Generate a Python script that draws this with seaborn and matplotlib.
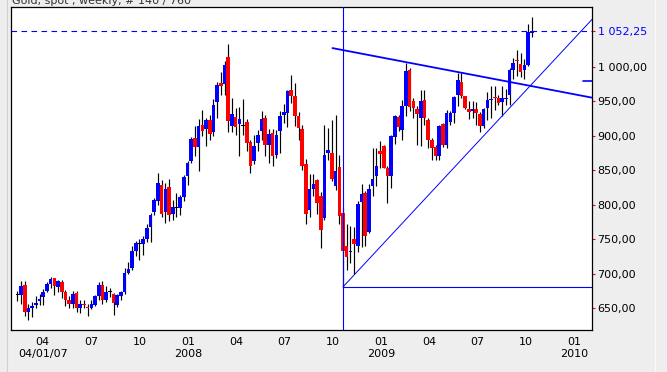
import pandas as pd
import numpy as np
import matplotlib
matplotlib.use("Agg")
import matplotlib.pyplot as plt
import matplotlib.dates as mdates
from matplotlib.lines import Line2D
import seaborn as sns

# weekly candles, gold spot, one row per week starting 2007-02-12
first_week = "2007-02-12"
opens = [669, 669.5, 684, 644, 651, 654.5, 660, 667, 674.5, 685.5,
         694, 681, 688.5, 673, 662.5, 656.5, 672.5, 651, 656.5, 652,
         651, 655, 667.5, 684, 662.5, 673, 670.5, 655, 668.5, 674,
         701, 708.5, 732.5, 743, 743, 750.5, 768.5, 789.5, 805, 829,
         789.5, 825.5, 787, 795.5, 795.5, 811, 842.5, 863, 897, 884,
         915.5, 910, 923.5, 905, 948.5, 976.5, 975.5, 1014.5, 914, 927.5,
         917.5, 915, 920.5, 890.5, 863, 889.5, 906.5, 926, 887, 904,
         872.5, 906.5, 930.5, 933, 967, 958.5, 929.5, 910.5, 859.5, 792,
         823.5, 835.5, 813.5, 781, 875, 875, 827, 855, 788, 740.5,
         731, 751, 741, 803.5, 817, 760, 827.5, 841.5, 878.5, 885,
         853.5, 842, 898, 927, 908, 943, 995, 950, 939, 926,
         952.5, 923.5, 893.5, 884, 870.5, 917.5, 887, 919.5, 933, 959,
         977.5, 957.5, 939, 935.5, 939, 931.5, 915, 940, 951.5, 956.5,
         955.5, 948.5, 953.5, 959.5, 995, 1009, 1004.5, 995, 1003, 1049]
highs = [674.5, 690, 690, 656.5, 659, 668, 670.5, 678, 687.5, 695,
         694, 691.5, 690.5, 676, 668, 675.5, 675.5, 661.5, 662.5, 656.5,
         661.5, 669.5, 688, 690, 682.5, 679, 672, 670.5, 675.5, 708.5,
         717, 740.5, 747, 750.5, 755, 772, 788, 810, 846, 835.5,
         831.5, 837.5, 807.5, 817, 814.5, 843.5, 863, 898, 914, 924.5,
         938, 926, 930.5, 954, 978, 992.5, 1008, 1033.5, 955, 940.5,
         942, 954, 924.5, 894.5, 901.5, 909, 936.5, 930.5, 910, 910,
         909, 935.5, 946.5, 967, 988.5, 976.5, 934, 916, 867, 844.5,
         844.5, 837.5, 818, 916, 911.5, 923.5, 930.5, 872.5, 797, 772,
         769.5, 768.5, 805, 830, 819.5, 830, 882.5, 882.5, 892, 887,
         856, 901.5, 930.5, 930.5, 952.5, 1005.5, 998.5, 955, 943, 967,
         967, 926, 897, 887, 916, 918.5, 937, 935.5, 957.5, 991,
         991, 958.5, 950, 950, 948.5, 934, 940.5, 963, 972, 972,
         959.5, 972, 968, 998.5, 1013, 1025, 1021, 1012, 1062, 1072]
lows = [660, 656, 639.5, 632.5, 637, 651, 655, 655, 673, 679,
        669.5, 674, 664.5, 654, 651, 651, 644, 643, 650, 639.5,
        649.5, 654, 662.5, 656, 659.5, 666, 640.5, 652.5, 662.5, 671,
        699.5, 706, 726, 720.5, 727.5, 746.5, 745.5, 785.5, 800, 783,
        773.5, 777, 778.5, 783, 785.5, 805, 829, 860.5, 870.5, 848.5,
        899.5, 885, 894.5, 900, 926, 959.5, 959.5, 905, 905, 901.5,
        871, 901.5, 877.5, 846, 859.5, 877.5, 894.5, 870.5, 860.5, 857,
        868, 875, 918.5, 912.5, 947.5, 914, 893.5, 850, 772.5, 783,
        813.5, 787, 737.5, 778, 865.5, 835, 822, 772, 681, 706,
        715, 700, 731, 739.5, 740.5, 759, 812.5, 827, 853.5, 853,
        802.5, 824.5, 888, 906.5, 894.5, 928.5, 935.5, 926, 887, 885.5,
        916, 882.5, 865.5, 864.5, 864.5, 884, 882.5, 916, 918.5, 943,
        955, 939, 924.5, 926, 916, 905, 911.5, 923.5, 926, 938,
        945, 928.5, 945, 945, 982.5, 986.5, 985.5, 983, 1001, 1043]
closes = [669, 682.5, 644, 651, 654, 657.5, 664, 674, 685.5, 693,
          683, 690, 673, 662.5, 656.5, 670.5, 650, 656.5, 655, 650,
          656.5, 667.5, 684, 662.5, 674, 673, 657.5, 669.5, 674, 701,
          707, 732.5, 744.5, 743, 750.5, 767, 785.5, 807.5, 831.5, 787,
          823, 785.5, 796.5, 795.5, 812, 841, 860.5, 896, 884, 914,
          906.5, 923.5, 903, 945, 974, 973, 1003, 921, 932, 913,
          925, 915, 889.5, 856.5, 885, 901.5, 924.5, 887, 903, 871.5,
          901.5, 928.5, 934, 964.5, 958.5, 929.5, 911.5, 856.5, 787, 823,
          830.5, 802.5, 764, 872.5, 879, 837.5, 848.5, 784.5, 732.5, 725,
          733.5, 743.5, 801, 816, 755.5, 823, 838, 856, 873.5, 853.5,
          842, 900, 928.5, 912.5, 943, 993.5, 942, 940.5, 931.5, 951,
          926, 893.5, 882.5, 870.5, 914, 887, 933, 933, 957, 980.5,
          957.5, 940.5, 934, 939, 933, 914, 939, 951.5, 953.5, 955.5,
          947.5, 955, 955.5, 995, 1006, 1008, 992, 1003, 1050.5, 1052.25]

# axis ticks
x_ticks = ["2007-04-01", "2007-07-01", "2007-10-01", "2008-01-01", "2008-04-01",
           "2008-07-01", "2008-10-01", "2009-01-01", "2009-04-01", "2009-07-01",
           "2009-10-01", "2010-01-01"]
x_labels = ["04\n04/01/07", "07", "10", "01\n2008", "04", "07", "10",
            "01\n2009", "04", "07", "10", "01\n2010"]
y_ticks = [650, 700, 750, 800, 850, 900, 950, 1000]
y_labels = ["650,00", "700,00", "750,00", "800,00", "850,00", "900,00",
            "950,00", "1 000,00"]
last_price = 1052.25
last_label = "1 052,25"

# drawn studies
mark_date = "2008-10-20"
mark_low = 681
up_dates = ["2008-10-20", "2010-02-03"]
up_vals = [681, 1069]
down_dates = ["2008-09-30", "2010-02-03"]
down_vals = [1027.4, 955.5]
edge_mark = 979

title = "Gold, spot , weekly, # 140 / 760"

sns.set_theme(style="white")
plt.rcParams["font.family"] = ["DejaVu Sans"]

W, H = 667, 372
fig = plt.figure(figsize=(W / 100, H / 100), dpi=100, facecolor="#EEEEEE")
ax = fig.add_axes([11 / W, 1 - 330 / H, 581 / W, 323 / H])
ax.set_facecolor("white")

df = pd.DataFrame({"open": opens, "high": highs, "low": lows, "close": closes})
df["date"] = pd.date_range(first_week, periods=len(df), freq="7D")
df["x"] = mdates.date2num(df["date"])

# wicks
ax.vlines(df["x"], df["low"], df["high"], color="black", lw=0.85, zorder=2)

# bodies
colors = np.where(df["close"] > df["open"], "#0000FF",
                  np.where(df["close"] < df["open"], "#FF0000", "black"))
bottoms = df[["open", "close"]].min(axis=1)
heights = (df["close"] - df["open"]).abs().clip(lower=1.5)
ax.bar(df["x"], heights, bottom=bottoms, width=6.8, color=colors,
       lw=0, zorder=3)

xl = mdates.date2num(pd.Timestamp("2007-01-31"))
xr = mdates.date2num(pd.Timestamp("2010-02-03"))
ax.set_xlim(xl, xr)
ax.set_ylim(618.5, 1087)

# study lines
mx = mdates.date2num(pd.Timestamp(mark_date))
ax.axvline(mx, color="#0000FF", lw=0.8, zorder=4)
ax.plot([mx, xr], [mark_low, mark_low], color="#0000FF", lw=0.8, zorder=4)
sns.lineplot(x=mdates.date2num(pd.to_datetime(up_dates)), y=up_vals, ax=ax,
             color="#0000FF", lw=0.7, zorder=4)
sns.lineplot(x=mdates.date2num(pd.to_datetime(down_dates)), y=down_vals, ax=ax,
             color="#0000FF", lw=1.3, zorder=4)
ax.axhline(last_price, color="#0000FF", lw=0.8, ls=(0, (5, 4)), zorder=5)
ax.axhline(edge_mark, xmin=0.985, xmax=1, color="#0000FF", lw=1.2, zorder=5)

# axes styling
for s in ax.spines.values():
    s.set_visible(True)
    s.set_color("black")
    s.set_linewidth(0.9)

ax.set_xticks(mdates.date2num(pd.to_datetime(x_ticks)))
ax.set_xticklabels(x_labels, fontsize=8, linespacing=1.35)
ax.yaxis.tick_right()
ax.set_yticks(y_ticks + [last_price])
ax.set_yticklabels(y_labels + [last_label], fontsize=8)
ax.tick_params(axis="both", direction="out", length=2.5, width=0.8,
               color="red", labelcolor="black", pad=1.5)
ax.tick_params(axis="x", pad=2.2)
ax.get_yticklabels()[-1].set_color("#0000FF")
ax.yaxis.get_major_ticks()[-1].tick2line.set_color("#0000FF")
ax.grid(False)
ax.set_xlabel("")
ax.set_ylabel("")

# title sits partly above the top edge, as in the source screenshot
fig.text(12 / W, 1 - 3.5 / H, title, fontsize=8, color="#333333",
         va="baseline", ha="left")
fig.add_artist(Line2D([7 / W, 7 / W], [0, 1], color="#D0D0D0", lw=0.8))
fig.add_artist(Line2D([655 / W, 655 / W], [0, 1], color="#FAFAFA", lw=0.8))

fig.savefig("out.png", dpi=100, facecolor=fig.get_facecolor())
